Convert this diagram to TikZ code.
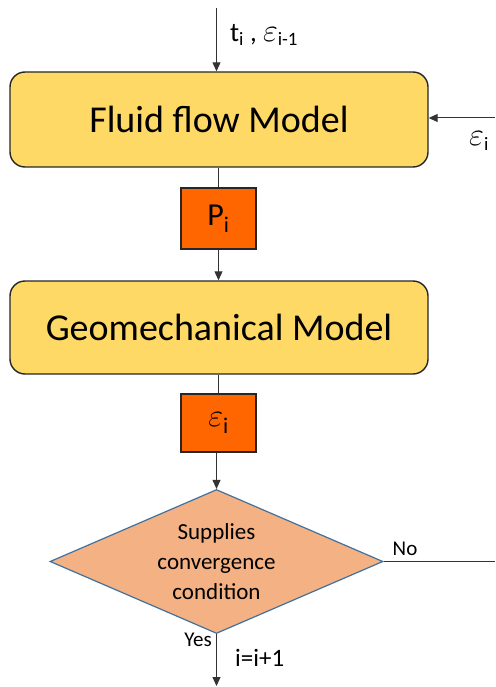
\documentclass[tikz,border=0pt]{standalone}
\usepackage{fontspec}
\setmainfont{Carlito}
\usetikzlibrary{shapes.geometric,arrows.meta}
\definecolor{boxgold}{HTML}{FFD966}
\definecolor{boxorange}{HTML}{FF6600}
\definecolor{diafill}{HTML}{F4B183}
\definecolor{diaedge}{HTML}{41719C}
\newcommand{\myeps}{\scalebox{1.3}{$\varepsilon$}}
\begin{document}
\begin{tikzpicture}[x=1pt,y=-1pt,
  modelbox/.style={draw=black!85, line width=1.4pt, fill=boxgold, rounded corners=15pt,
     minimum width=418pt, inner sep=0pt, font=\fontsize{38}{44}\selectfont},
  varbox/.style={draw=black!85, line width=1.2pt, fill=boxorange, minimum width=75pt,
     inner sep=0pt, font=\fontsize{32}{38}\selectfont},
  decision/.style={diamond, draw=diaedge, line width=1.2pt, fill=diafill, aspect=2.31,
     inner sep=0pt, minimum width=333pt, minimum height=144pt, align=center,
     font=\fontsize{23}{30}\selectfont},
  conn/.style={draw=black!80, line width=1pt},
  arr/.style={conn, -{Triangle[length=9pt,width=8pt]}},
  lbl/.style={font=\fontsize{27}{30}\selectfont, inner sep=0pt},
  small/.style={font=\fontsize{21}{24}\selectfont, inner sep=0pt}
]
\useasboundingbox (0,0) rectangle (495,687);
\node[modelbox, minimum height=95pt] (fluid) at (219,119.5) {Fluid flow Model};
\node[varbox, minimum height=61pt] (p) at (218.5,218.5) {P\textsubscript{i}};
\node[modelbox, minimum height=93pt] (geo) at (219,327.5) {Geomechanical Model};
\node[varbox, minimum height=58pt] (eps) at (218.5,423) {\myeps\textsubscript{i}};
\node[decision] (dec) at (216.5,561.5) {Supplies\\convergence\\condition};

\coordinate (top) at (216.5,8);
\coordinate (rightin) at (495,118);
\coordinate (noend) at (495,561.5);
\coordinate (yesend) at (216.5,686);

\draw[arr] (top) -- (top |- fluid.north);
\draw[arr] (rightin) -- (fluid.east |- rightin);
\draw[conn] (p.north |- fluid.south) -- (p.north);
\draw[arr] (p.south) -- (p.south |- geo.north);
\draw[conn] (eps.north |- geo.south) -- (eps.north);
\draw[arr] (eps.south -| dec.north) -- (dec.north);
\draw[conn] (dec.east) -- (noend);
\draw[arr] (dec.south) -- (yesend);

\node[lbl, anchor=west] (tlbl) at (230,35) {t\textsubscript{i} , \myeps\textsubscript{i-1}};
\node[lbl, anchor=west] (elbl) at (469,141) {\myeps\textsubscript{i}};
\node[small] (nolbl) at (405,549) {No};
\node[small] (yeslbl) at (198,640) {Yes};
\node[lbl, font=\fontsize{25}{28}\selectfont, anchor=west] (ilbl) at (235,658) {i=i+1};
\end{tikzpicture}
\end{document}
